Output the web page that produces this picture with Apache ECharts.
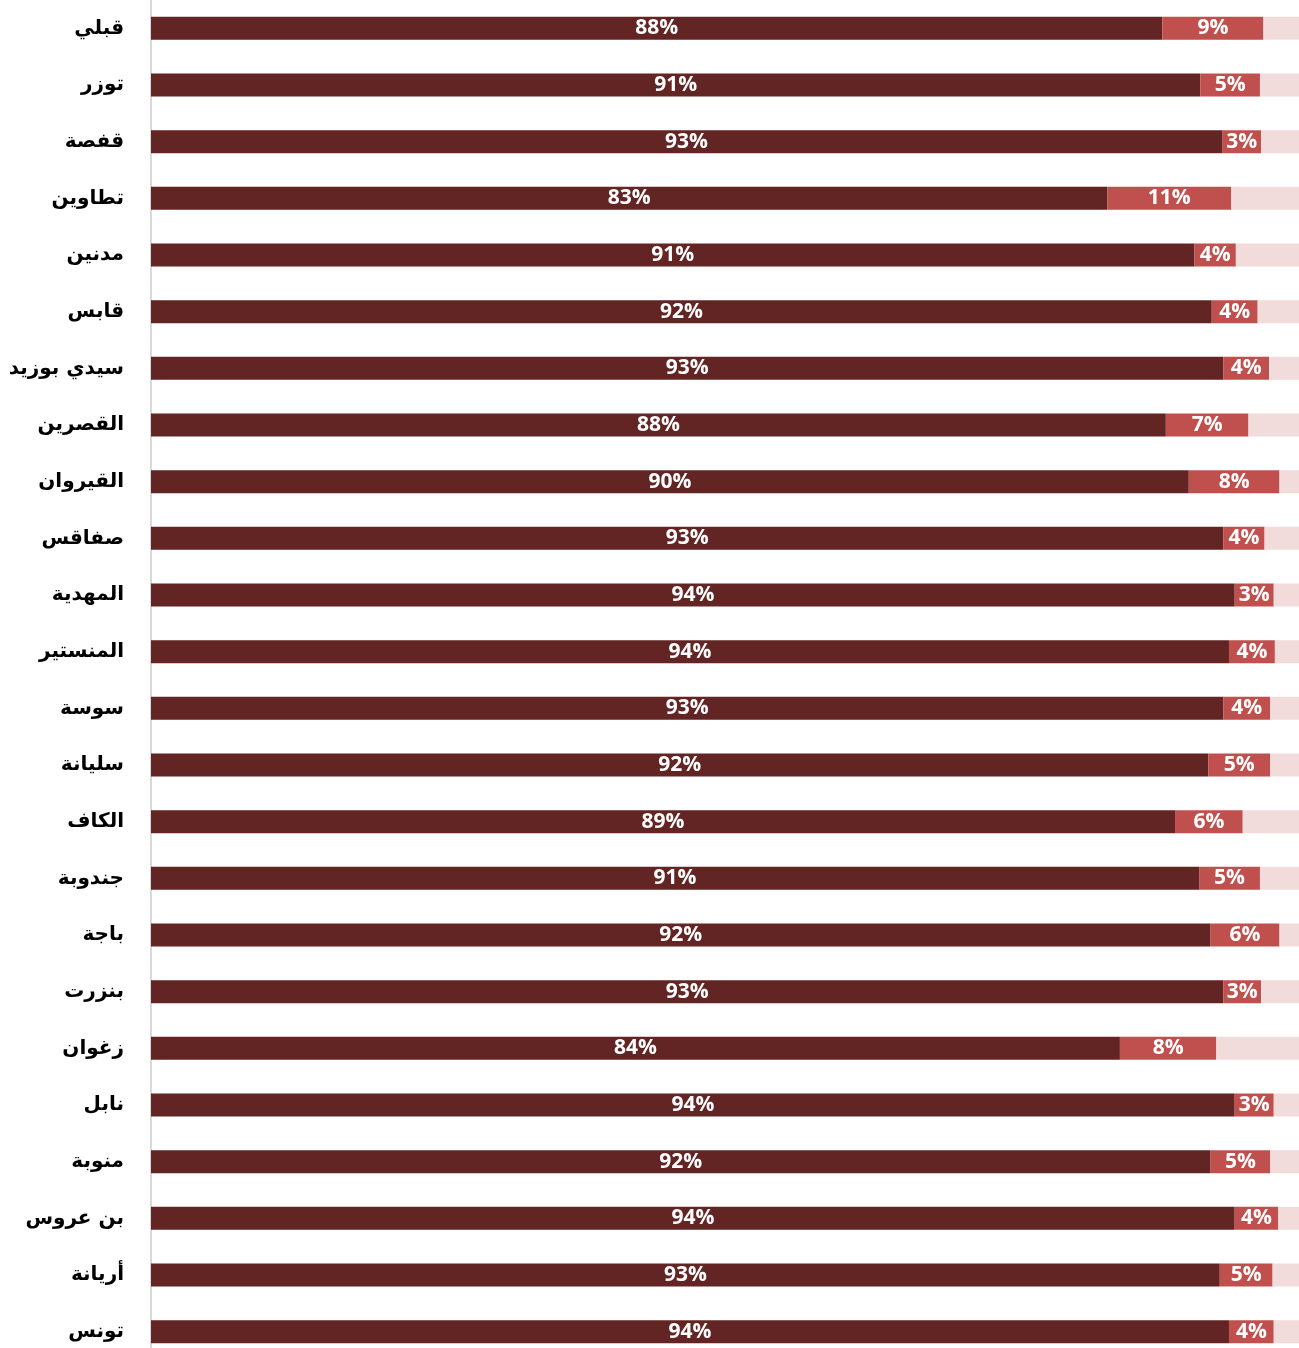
<!DOCTYPE html>
<html>
<head>
<meta charset="utf-8">
<script src="https://cdn.jsdelivr.net/npm/echarts@6/dist/echarts.min.js"></script>
<style>
  html, body { margin: 0; padding: 0; background: #fff; overflow: hidden; }
  #chart { width: 1299px; height: 1360px; }
</style>
</head>
<body>
<div id="chart"></div>
<script>
// الولايات من الأعلى إلى الأسفل
const categories = ['قبلي', 'توزر', 'قفصة', 'تطاوين', 'مدنين', 'قابس', 'سيدي بوزيد', 'القصرين',
  'القيروان', 'صفاقس', 'المهدية', 'المنستير', 'سوسة', 'سليانة', 'الكاف', 'جندوبة', 'باجة',
  'بنزرت', 'زغوان', 'نابل', 'منوبة', 'بن عروس', 'أريانة', 'تونس'];

// السلسلة الأولى (داكنة)
const seriesA = [88.1, 91.4, 93.3, 83.3, 90.9, 92.4, 93.4, 88.4, 90.4, 93.4, 94.4, 93.9,
  93.4, 92.1, 89.2, 91.3, 92.3, 93.4, 84.4, 94.4, 92.3, 94.4, 93.1, 93.9];

// السلسلة الثانية (حمراء)
const seriesB = [8.8, 5.2, 3.4, 10.8, 3.6, 4.0, 4.0, 7.2, 7.9, 3.6, 3.4, 4.0,
  4.1, 5.4, 5.9, 5.3, 6.0, 3.3, 8.4, 3.4, 5.2, 3.8, 4.6, 3.9];

// الباقي حتى 100%
const seriesC = seriesA.map((a, i) => +(100 - a - seriesB[i]).toFixed(1));

const chart = echarts.init(document.getElementById('chart'));

const label = {
  show: true,
  position: 'inside',
  color: '#ffffff',
  fontFamily: 'Open Sans',
  fontWeight: 'bold',
  fontSize: 21,
  padding: [3, 0, 0, 0],
  formatter: p => Math.round(p.value) + '%'
};

chart.setOption({
  animation: false,
  grid: { left: 151, right: 0, top: 0, bottom: 0, containLabel: false },
  xAxis: {
    type: 'value',
    min: 0,
    max: 100,
    show: false
  },
  yAxis: {
    type: 'category',
    data: categories,
    inverse: true,
    axisLine: { show: true, lineStyle: { color: '#d9d9d9', width: 2 } },
    axisTick: { show: false },
    axisLabel: {
      margin: 27,
      color: '#000000',
      fontFamily: 'DejaVu Sans',
      fontWeight: 'bold',
      fontSize: 20
    }
  },
  series: [
    {
      name: 'A', type: 'bar', stack: 'total', barWidth: 23,
      itemStyle: { color: '#632523' },
      label: label,
      data: seriesA
    },
    {
      name: 'B', type: 'bar', stack: 'total', barWidth: 23,
      itemStyle: { color: '#c0504d' },
      label: label,
      data: seriesB
    },
    {
      name: 'C', type: 'bar', stack: 'total', barWidth: 23,
      itemStyle: { color: '#f2dcdb' },
      data: seriesC
    }
  ]
});
</script>
</body>
</html>
